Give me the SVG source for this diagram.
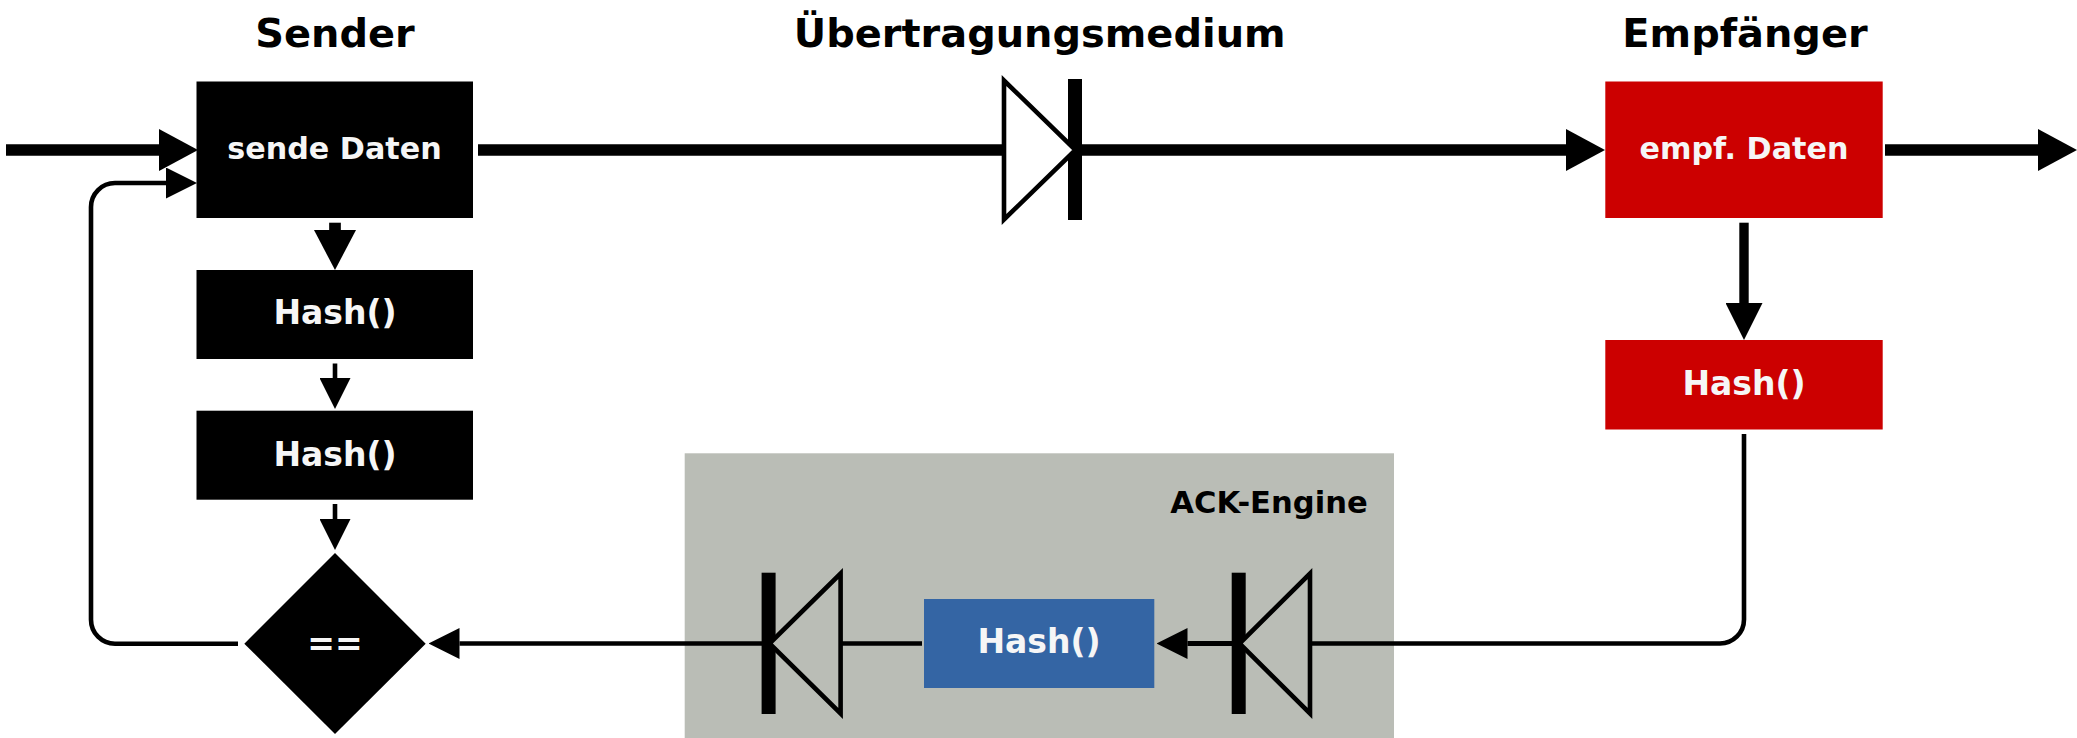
<svg xmlns="http://www.w3.org/2000/svg" width="2077" height="738" viewBox="0 0 2077 738">
<style>
text{font-family:"DejaVu Sans",sans-serif;font-weight:700;text-anchor:middle}
.title{font-size:39.9px;fill:#000}
.lab{font-size:33px;fill:#f6f6f6}
.lab2{font-size:30.2px;fill:#f6f6f6}
.c{fill:none;stroke:#000;stroke-linejoin:round}
.t{stroke-width:11.7px}.m{stroke-width:9.4px}.n{stroke-width:4.6px}.a{stroke-width:5.2px}
.bar{fill:#000}
.tri{stroke:#000;stroke-width:4.6px;stroke-linejoin:miter;stroke-miterlimit:10}
.k{fill:#000}.r{fill:#c00}.b{fill:#3465a4}
</style>
<defs>
<marker id="hL" markerUnits="userSpaceOnUse" markerWidth="39" markerHeight="42" refX="0" refY="21" orient="auto" viewBox="0 0 39 42"><path d="M0 0L39 21L0 42Z"/></marker>
<marker id="hD" markerUnits="userSpaceOnUse" markerWidth="40" markerHeight="42" refX="0" refY="21" orient="auto" viewBox="0 0 40 42"><path d="M0 0L40 21L0 42Z"/></marker>
<marker id="hR" markerUnits="userSpaceOnUse" markerWidth="37" markerHeight="37" refX="0" refY="18.500" orient="auto" viewBox="0 0 37 37"><path d="M0 0L37 18.500L0 37Z"/></marker>
<marker id="hS" markerUnits="userSpaceOnUse" markerWidth="31" markerHeight="31" refX="0" refY="15.500" orient="auto" viewBox="0 0 31 31"><path d="M0 0L31 15.500L0 31Z"/></marker>
</defs>

<g id="ack-engine">
<rect x="684.700" y="453.300" width="709.300" height="285" fill="#babdb6"/>
<text x="1269" y="512.700" style="font-size:30.600px" fill="#000">ACK-Engine</text>
</g>

<g id="connectors">
<path class="c t" d="M6 150H159" marker-end="url(#hL)"/>
<path class="c n" d="M238 643.700H115A24 24 0 0 1 91 619.700V207A24 24 0 0 1 115 183H166" marker-end="url(#hS)"/>
<path class="c t" d="M335 222.700V230" marker-end="url(#hD)"/>
<path class="c n" d="M335 363.500V378" marker-end="url(#hS)"/>
<path class="c n" d="M335 504V519" marker-end="url(#hS)"/>
<path class="c t" d="M478 150H1003"/>
<path class="c t" d="M1080 150H1566" marker-end="url(#hL)"/>
<path class="c t" d="M1885 150H2038" marker-end="url(#hL)"/>
<path class="c m" d="M1744 222.700V303" marker-end="url(#hR)"/>
<path class="c n" d="M1744 434V619.500A24 24 0 0 1 1720 643.500H1310"/>
<path class="c a" d="M1233 643.500H1187.500" marker-end="url(#hS)"/>
<path class="c n" d="M922 643.500H841"/>
<path class="c n" d="M763 643.500H459.500" marker-end="url(#hS)"/>
</g>

<g id="sender-title"><text class="title" x="335" y="46.700">Sender</text></g>
<g id="medium-title"><text class="title" x="1039.700" y="46.700">Übertragungsmedium</text></g>
<g id="receiver-title"><text class="title" x="1745" y="46.700">Empfänger</text></g>

<g id="send-data"><rect class="k" x="196.500" y="81.500" width="276.500" height="136.500"/><text class="lab2" x="334.500" y="159">sende Daten</text></g>
<g id="send-hash-1"><rect class="k" x="196.500" y="270" width="276.500" height="89"/><text class="lab" x="335" y="324">Hash()</text></g>
<g id="send-hash-2"><rect class="k" x="196.500" y="410.700" width="276.500" height="89"/><text class="lab" x="335" y="465.500">Hash()</text></g>
<g id="compare"><path class="k" d="M335 553L425.700 643.700L335 734L244.300 643.700Z"/><text class="lab" x="335" y="655">==</text></g>

<g id="medium-diode">
<rect class="bar" x="1068" y="79" width="14" height="141"/>
<path class="tri" fill="#fff" d="M1004 80.500V219.500L1075.500 150Z"/>
</g>

<g id="recv-data"><rect class="r" x="1605.300" y="81.500" width="277.400" height="136.500"/><text class="lab2" x="1744" y="159">empf. Daten</text></g>
<g id="recv-hash"><rect class="r" x="1605.300" y="340" width="277.400" height="89.500"/><text class="lab" x="1744" y="395">Hash()</text></g>

<g id="ack-diode-right">
<rect class="bar" x="1231.700" y="572.700" width="14" height="141.300"/>
<path class="tri" fill="#babdb6" d="M1310 573.500V713.500L1239.500 643.500Z"/>
</g>
<g id="ack-hash"><rect class="b" x="924" y="599" width="230.300" height="89"/><text class="lab" x="1039" y="653.300">Hash()</text></g>
<g id="ack-diode-left">
<rect class="bar" x="761.600" y="572.700" width="14" height="141.300"/>
<path class="tri" fill="#babdb6" d="M840.600 573.500V713.500L769.500 643.500Z"/>
</g>
</svg>
